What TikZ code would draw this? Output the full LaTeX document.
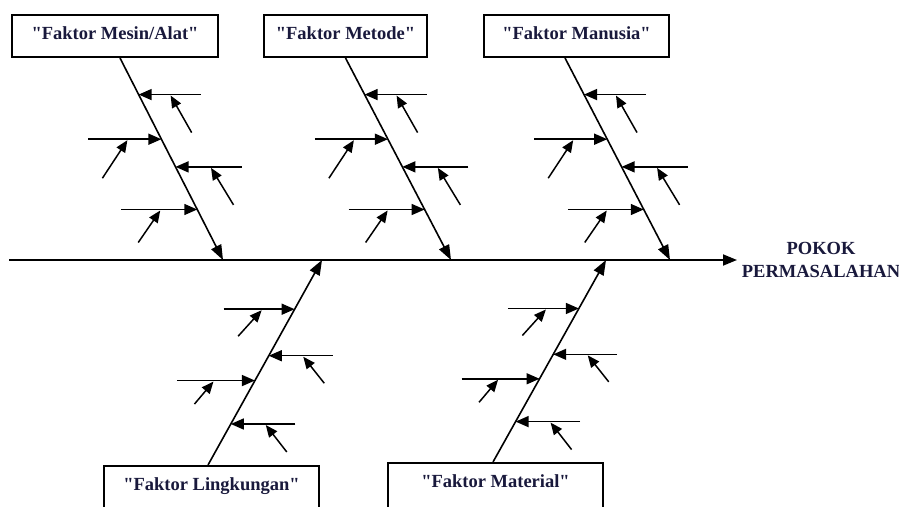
\documentclass[tikz,border=0pt]{standalone}
\usepackage{fontspec}
\setmainfont{Liberation Serif}[Ligatures=TeXOff]
\usepackage{xcolor}
\usetikzlibrary{positioning,arrows.meta,calc}
\definecolor{labelnavy}{RGB}{25,25,60}

\begin{document}
\begin{tikzpicture}[x=1pt, y=-1pt,
  box/.style={rectangle, draw, line width=2pt, inner xsep=0pt, inner ysep=0pt, text height=24pt, font=\fontsize{18.5}{23}\selectfont\bfseries, text=labelnavy},
  spine/.style={-{Triangle[length=14pt,width=11pt]}, line width=1.8pt},
  bone/.style={-{Triangle[length=15pt,width=11pt]}, line width=1.6pt},
  rib/.style={-{Triangle[length=13pt,width=11pt]}, line width=1.5pt},
  twig/.style={-{Triangle[length=12pt,width=10pt]}, line width=1.5pt}
]
  \fill[white] (0,0) rectangle (899,506);
  \useasboundingbox (0,0) rectangle (899,506);

  \node[box, anchor=north, minimum width=206pt, text depth=18pt] (mesin) at (115,14) {"Faktor Mesin/Alat"};
  \node[box, anchor=north, minimum width=163pt, text depth=18pt] (metode) at (345.5,14) {"Faktor Metode"};
  \node[box, anchor=north, minimum width=185pt, text depth=18pt] (manusia) at (576.5,14) {"Faktor Manusia"};
  \node[box, anchor=north, minimum width=215pt, text depth=50pt] (lingkungan) at (211.5,465) {"Faktor Lingkungan"};
  \node[box, anchor=north, minimum width=215pt, text depth=50pt] (material) at (495.5,462) {"Faktor Material"};
  \node[font=\fontsize{18.5}{23}\selectfont\bfseries, text=labelnavy, align=center] (pokok) at (821,260) {POKOK\\PERMASALAHAN};

  \coordinate (tail) at (9,260);
  \coordinate (head) at (737,260);
  \coordinate (root1) at ([xshift=5pt]mesin.south);
  \coordinate (root2) at (metode.south);
  \coordinate (root3) at ([xshift=-11.5pt]manusia.south);
  \coordinate (root4) at ([xshift=-3.5pt]lingkungan.north);
  \coordinate (root5) at ([xshift=-2.5pt]material.north);
  \coordinate (joint1) at (223,260);
  \coordinate (joint2) at (451,260);
  \coordinate (joint3) at (670,260);
  \coordinate (joint4) at (322,260);
  \coordinate (joint5) at (606,260);

  \draw[spine] (tail) -- (head);
  \foreach \i in {1,...,5}
    \draw[bone] (root\i) -- (joint\i);

  \foreach \i in {1,2,3}
    \foreach \t/\d/\sx/\sy/\hx in {0.181/62/53/38/32, 0.402/-73/-59/39/-34, 0.539/66/58/38/35.5, 0.75/-76/-59/33/-37} {
      \coordinate (tip) at ($(root\i)!\t!(joint\i)$);
      \draw[rib] ($(tip)+(\d,0)$) -- (tip);
      \draw[twig] ($(tip)+(\sx,\sy)$) -- ($(tip)+(\hx,1)$);
    }
  \foreach \i in {4,5}
    \foreach \t/\d/\sx/\sy/\hx in {0.76/-71/-56.5/27/-33, 0.533/64/55.5/27.5/34.5, 0.412/-78/-60.5/23.5/-41.5, 0.2/64.5/56/28/35} {
      \coordinate (tip) at ($(root\i)!\t!(joint\i)$);
      \draw[rib] ($(tip)+(\d,0)$) -- (tip);
      \draw[twig] ($(tip)+(\sx,\sy)$) -- ($(tip)+(\hx,1)$);
    }
\end{tikzpicture}
\end{document}
